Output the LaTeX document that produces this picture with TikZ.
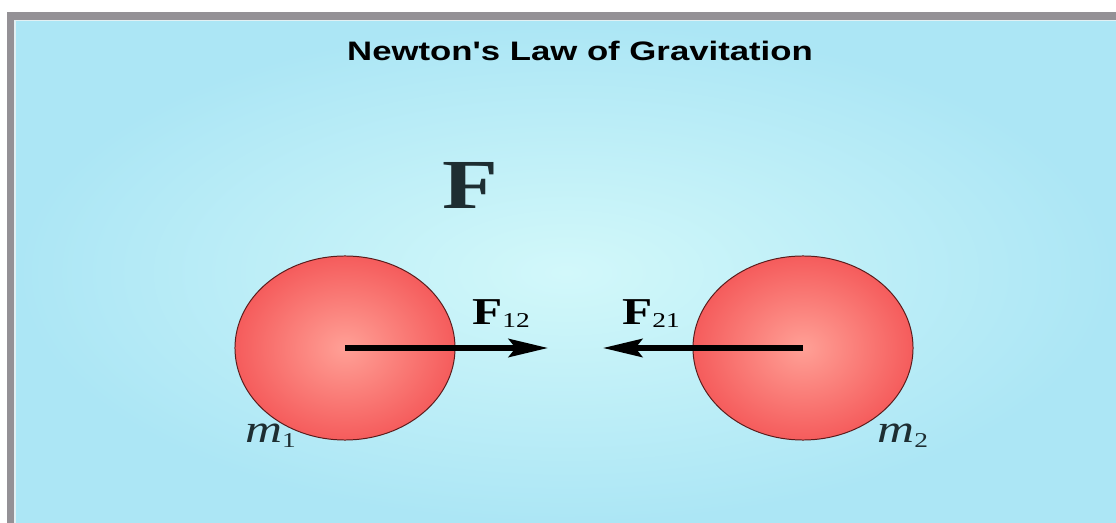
\documentclass[tikz,border=0pt]{standalone}
\usepackage{fontspec}
\setmainfont{Liberation Serif}
\newfontfamily\titlefont{Liberation Sans}
\usetikzlibrary{arrows.meta,shapes.geometric}
\definecolor{FrameGray}{RGB}{148,145,150}
\definecolor{FrameEdge}{RGB}{226,240,243}
\definecolor{SkyInner}{RGB}{210,248,250}
\definecolor{SkyOuter}{RGB}{172,230,245}
\definecolor{BallInner}{RGB}{255,160,150}
\definecolor{BallOuter}{RGB}{245,92,92}
\definecolor{BallEdge}{RGB}{90,28,28}
\definecolor{InkSlate}{RGB}{30,46,50}
\newcommand{\stretchx}[1]{\scalebox{1.3}[1]{#1}}

\tikzset{
	mass/.style={ellipse, draw=BallEdge, line width=0.7pt, shading=radial,
		inner color=BallInner, outer color=BallOuter,
		minimum width=5.5cm, minimum height=4.6cm, inner sep=0pt},
	force/.style={->, >={Stealth[length=28pt,width=13pt,inset=5pt]}, black, line width=3.8pt},
	masslabel/.style={anchor=base west, inner sep=0pt, text=InkSlate,
		font=\fontsize{28}{28}\selectfont\itshape},
	forcelabel/.style={anchor=base west, inner sep=0pt, text=black,
		font=\fontsize{27}{27}\selectfont\bfseries},
}

\begin{document}
\begin{tikzpicture}[x=0.025cm, y=-0.025cm]
	
	\useasboundingbox[fill=white] (0,0) rectangle (1116,523);
	
	% frame and sky
	\fill[FrameGray] (7,12) rectangle (1116,523);
	\fill[FrameEdge] (14,20) rectangle (1116,523);
	\shade[inner color=SkyInner, outer color=SkyOuter] (16,22) rectangle (1116,523);
	
	\node[
	font=\titlefont\bfseries\fontsize{19}{19}\selectfont,
	anchor=base,
	inner sep=0pt
	]
	(title) at (580,61)
	{\stretchx{Newton's Law of Gravitation}};
	
	\node[
	font=\fontsize{50}{50}\selectfont\bfseries,
	text=InkSlate,
	anchor=base,
	inner sep=0pt
	]
	(bigF) at (470,209)
	{\stretchx{F}};
	
	% the two masses
	\node[mass] (m1ball) at (345,348) {};
	\node[mass] (m2ball) at (803,348) {};
	
	\coordinate (tipA) at (548,348);
	\coordinate (tipB) at (603,348);
	
	\draw[force] (m1ball.center) -- (tipA);
	\draw[force] (m2ball.center) -- (tipB);
	
	\node[forcelabel] (f12) at (472,325)
	{\stretchx{F{\mdseries\fontsize{15}{15}\selectfont\raisebox{-1.5pt}{12}}}};
	\node[forcelabel] (f21) at (622,325)
	{\stretchx{F{\mdseries\fontsize{15}{15}\selectfont\raisebox{-1.5pt}{21}}}};
	
	\node[masslabel] (m1) at (245,442)
	{\stretchx{m{\upshape\fontsize{15}{15}\selectfont\raisebox{-4pt}{1}}}};
	\node[masslabel] (m2) at (877,442)
	{\stretchx{m{\upshape\fontsize{15}{15}\selectfont\raisebox{-4pt}{2}}}};
	
\end{tikzpicture}
\end{document}
